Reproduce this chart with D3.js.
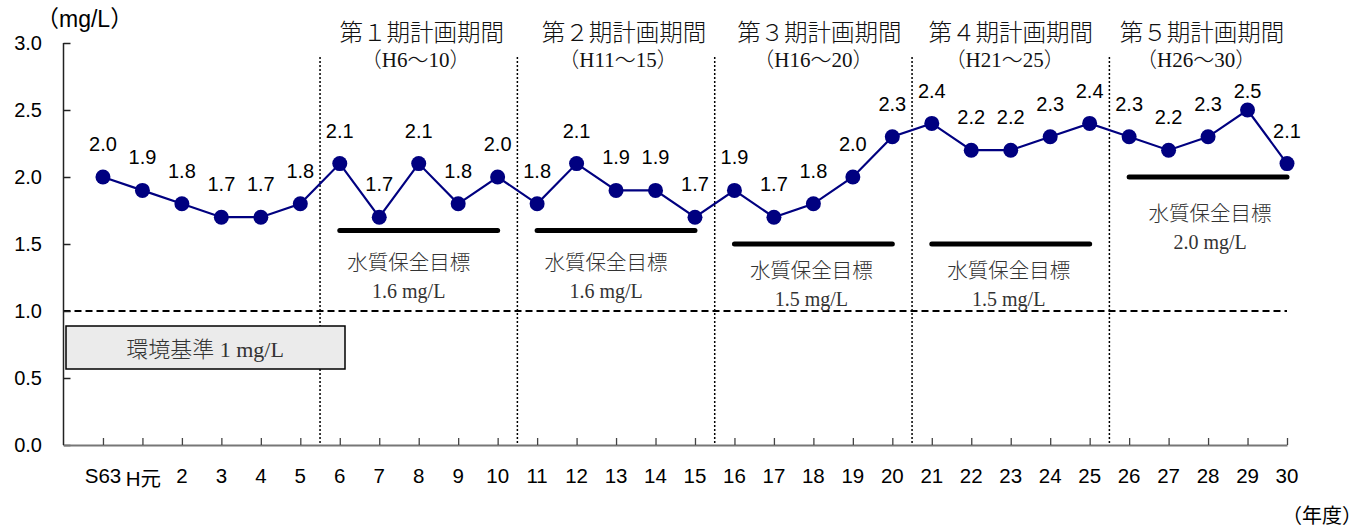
<!DOCTYPE html>
<html><head><meta charset="utf-8">
<script src="https://cdn.jsdelivr.net/npm/d3@7"></script>
<style>body{margin:0;background:#fff;} svg{display:block;}</style>
</head><body>
<svg id="c" width="1369" height="532"></svg>
<script>
const categories = ["S63","H元","2","3","4","5","6","7","8","9","10","11","12","13","14","15","16","17","18","19","20","21","22","23","24","25","26","27","28","29","30"];
const values = [2.0,1.9,1.8,1.7,1.7,1.8,2.1,1.7,2.1,1.8,2.0,1.8,2.1,1.9,1.9,1.7,1.9,1.7,1.8,2.0,2.3,2.4,2.2,2.2,2.3,2.4,2.3,2.2,2.3,2.5,2.1];
const yTicks = [0,0.5,1.0,1.5,2.0,2.5,3.0];
const periodNames = ["第１期計画期間","第２期計画期間","第３期計画期間","第４期計画期間","第５期計画期間"];
const periodRanges = ["（H6〜10）","（H11〜15）","（H16〜20）","（H21〜25）","（H26〜30）"];
const periodStart = [6,11,16,21,26];
const periodEnd = [10,15,20,25,30];
const targets = [1.6,1.6,1.5,1.5,2.0];
const targetLabels = ["1.6 mg/L","1.6 mg/L","1.5 mg/L","1.5 mg/L","2.0 mg/L"];
const envStandard = 1.0;

// layout (not data)
const labelGap = [32, 32, 27, 27, 37];
const labelShift = [-10, -10, -2, -2, 2];
const headShift = [3, 8, 6, 0, -6];

const svg = d3.select("#c");
const x = d3.scaleLinear().domain([-1, 30]).range([63.5, 1287]);
const y = d3.scaleLinear().domain([0, 3]).range([445, 43]);
const sans = "'Liberation Sans','Noto Sans CJK JP',sans-serif";
const serif = "'Liberation Serif','Noto Sans CJK JP',serif";

// dividers
[5.5,10.5,15.5,20.5,25.5].forEach(d=>{
  svg.append("line").attr("x1",x(d)).attr("x2",x(d)).attr("y1",57).attr("y2",445)
    .attr("stroke","#000").attr("stroke-width",1.5).attr("stroke-dasharray","2,2");
});

// env standard dashed line
svg.append("line").attr("x1",x(-1)).attr("x2",x(30)).attr("y1",y(envStandard)).attr("y2",y(envStandard))
  .attr("stroke","#000").attr("stroke-width",2).attr("stroke-dasharray","7,4");

// env box
svg.append("rect").attr("x",66).attr("y",326).attr("width",279).attr("height",43)
  .attr("fill","#ebebeb").attr("stroke","#000").attr("stroke-width",1.5);
svg.append("text").attr("x",205).attr("y",357).attr("text-anchor","middle")
  .attr("font-family",serif).attr("font-weight",300).attr("font-size",22).attr("fill","#333").text("環境基準 1 mg/L");

// axes
const yAxis = d3.axisRight(y).tickValues(yTicks).tickSize(7).tickFormat("");
const gy = svg.append("g").attr("transform",`translate(${x(-1)},0)`).call(yAxis);
gy.selectAll("path,line").attr("stroke","#222").attr("stroke-width",1.5);
gy.select(".domain").attr("d",`M0,${y(3)}V${y(0)}`);
svg.selectAll(".ylab").data(yTicks).join("text").attr("class","ylab")
  .attr("x",42).attr("y",d=>y(d)+7).attr("text-anchor","end")
  .attr("font-family",sans).attr("font-size",20).attr("fill","#000").text(d=>d.toFixed(1));

const xAxis = d3.axisTop(x).tickValues(d3.range(0,31)).tickSize(7).tickSizeOuter(0).tickFormat("");
const gx = svg.append("g").attr("transform",`translate(0,${y(0)})`).call(xAxis);
gx.selectAll("path,line").attr("stroke","#444").attr("stroke-width",1.3);
gx.select(".domain").attr("stroke","#777").attr("stroke-width",2);
svg.selectAll(".xlab").data(categories).join("text").attr("class","xlab")
  .attr("x",(d,i)=>x(i)+(i===1?1:0)).attr("y",(d,i)=>i===1?486:483).attr("text-anchor","middle")
  .attr("font-family",sans).attr("font-size",20.5).attr("fill","#000").text(d=>d);

// axis titles
svg.append("text").attr("x",36).attr("y",27).attr("font-family",sans).attr("font-size",23).text("（mg/L）");
svg.append("text").attr("x",1362).attr("y",523).attr("text-anchor","end").attr("font-family",sans).attr("font-size",20).text("（年度）");

// target lines
periodStart.forEach((s,i)=>{
  svg.append("line").attr("x1",x(s)).attr("x2",x(periodEnd[i])).attr("y1",y(targets[i])).attr("y2",y(targets[i]))
    .attr("stroke","#000").attr("stroke-width",5).attr("stroke-linecap","round");
  const cx = x((s+periodEnd[i])/2) + labelShift[i];
  const ty = y(targets[i]) + labelGap[i] + 7;
  svg.append("text").attr("x",cx).attr("y",ty).attr("text-anchor","middle")
    .attr("font-family",serif).attr("font-weight",300).attr("font-size",20.5).attr("fill","#333").text("水質保全目標");
  svg.append("text").attr("x",cx).attr("y",ty+28).attr("text-anchor","middle")
    .attr("font-family",serif).attr("font-size",20).attr("fill","#333").text(targetLabels[i]);
  // headers
  const hx = x((s+periodEnd[i])/2) + headShift[i];
  svg.append("text").attr("x",hx).attr("y",41).attr("text-anchor","middle")
    .attr("font-family",serif).attr("font-weight",300).attr("font-size",23.5).attr("fill","#111").text(periodNames[i]);
  svg.append("text").attr("x",hx-6).attr("y",67).attr("text-anchor","middle")
    .attr("font-family",serif).attr("font-weight",300).attr("font-size",21).attr("fill","#111").text(periodRanges[i]);
});

// line + markers
const line = d3.line().x((d,i)=>x(i)).y(d=>y(d));
svg.append("path").datum(values).attr("d",line).attr("fill","none").attr("stroke","#000080").attr("stroke-width",2.2);
svg.selectAll(".pt").data(values).join("circle").attr("class","pt")
  .attr("cx",(d,i)=>x(i)).attr("cy",d=>y(d)).attr("r",7.5).attr("fill","#000080");
svg.selectAll(".vl").data(values).join("text").attr("class","vl")
  .attr("x",(d,i)=>x(i)).attr("y",d=>Math.max(y(d)-26, 98)).attr("text-anchor","middle")
  .attr("font-family",sans).attr("font-size",20).attr("fill","#000").text(d=>d.toFixed(1));
</script>
</body></html>
